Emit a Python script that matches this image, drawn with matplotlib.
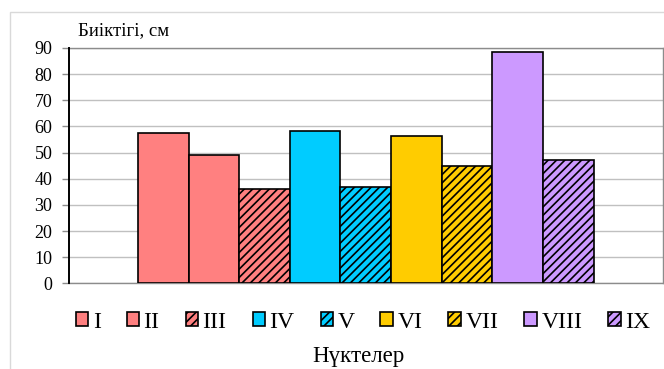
import matplotlib
matplotlib.use("Agg")
import matplotlib.pyplot as plt
from matplotlib.patches import Rectangle
import numpy as np

# Heights at each point, cm
points = ["I", "II", "III", "IV", "V", "VI", "VII", "VIII", "IX"]
heights = [57.4, 49.1, 36.1, 58.4, 36.9, 56.5, 44.8, 88.6, 47.3]
colors = ["#FF8080", "#FF8080", "#FF8080", "#00CCFF", "#00CCFF",
          "#FFCC00", "#FFCC00", "#CC99FF", "#CC99FF"]
hatched = [False, False, True, False, True, False, True, False, True]
yticks = [0, 10, 20, 30, 40, 50, 60, 70, 80, 90]

plt.rcParams["font.family"] = ["Liberation Serif", "DejaVu Serif"]
plt.rcParams["hatch.linewidth"] = 1.2

fig = plt.figure(figsize=(6.64, 3.69), dpi=100)

# outer chart frame
fig.patches.append(Rectangle((9.5 / 664, -0.1), 1.0, 1.1 - 12 / 369,
                             transform=fig.transFigure, fill=False,
                             edgecolor="#d9d9d9", linewidth=1.0))

ax = fig.add_axes([69 / 664, (369 - 283.3) / 369,
                   (662.5 - 69) / 664, (283.3 - 48) / 369])

x = np.arange(len(points))
handles = []
for xi, h, c, hat, name in zip(x, heights, colors, hatched, points):
    b = ax.bar(xi, h, width=1.0, color=c, edgecolor="black",
               linewidth=1.2, hatch="////" if hat else None,
               label=name, zorder=3)
    handles.append(b)

ax.set_xlim(-1.86, len(points) - 1 + 1.86)
ax.set_ylim(0, 90)
ax.set_yticks(yticks)
ax.set_xticks([])
ax.yaxis.grid(True, color="#c0c0c0", linewidth=1.0, zorder=0)
ax.set_axisbelow(True)

for side in ["top", "right", "bottom"]:
    ax.spines[side].set_color("#8c8c8c")
    ax.spines[side].set_linewidth(1.0)
ax.spines["left"].set_color("black")
ax.spines["left"].set_linewidth(1.4)
ax.spines["left"].set_zorder(4)

ax.tick_params(axis="y", length=5, width=1.0, color="#8c8c8c",
               pad=7, labelsize=13)

fig.text(78 / 664, 1 - 35 / 369, "Биіктігі, см", fontsize=13.5,
         ha="left", va="baseline")
fig.text(358 / 664, 1 - 362 / 369, "Нүктелер", fontsize=16.5,
         ha="center", va="baseline")

fig.legend(handles=handles, labels=points, loc="center",
           bbox_to_anchor=(363 / 664, 1 - 322 / 369), ncol=9,
           frameon=False, fontsize=17, handlelength=0.52,
           handleheight=0.52, handletextpad=0.2, columnspacing=1.1,
           borderpad=0.0)

fig.savefig("out.png", dpi=100)
